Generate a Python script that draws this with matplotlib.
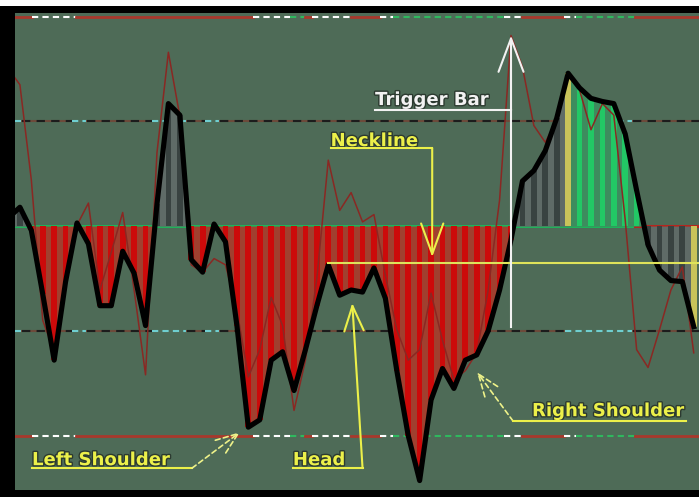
import matplotlib
matplotlib.use("Agg")
import matplotlib.pyplot as plt
import matplotlib.patheffects as pe
from matplotlib.patches import Rectangle
import numpy as np


# CCI readings per bar (bar 0 sits just left of the view)
bars = np.arange(61)
cci_slow = np.array([8, 18, -4, -65, -128, -53, 3, -17, -76, -76,
                     -24, -45, -95, 21, 117, 106, -32, -44, 2, -15,
                     -95, -192, -185, -128, -120, -157, -118, -76, -37, -66,
                     -61, -63, -40, -69, -138, -200, -243, -166, -136, -155,
                     -128, -123, -100, -61, -13, 43, 53, 72, 103, 146,
                     132, 122, 119, 117, 88, 34, -18, -42, -52, -53, -96])
cci_fast = np.array([150, 135, 44, -90, -120, -47, 1, 22, -61, -25,
                     13, -61, -142, 70, 166, 105, -37, -44, -31, -37,
                     -80, -144, -118, -68, -95, -176, -128, -50, 63, 15,
                     32, 4, 11, -47, -99, -128, -118, -64, -109, -147,
                     -138, -121, -61, 25, 182, 152, 96, 80, 101, 144,
                     130, 92, 117, 106, 6, -118, -135, -99, -61, -39, -121])
signal_bars = [49, 60]
trigger_bar = 44
outer_levels = [200, -200]
inner_levels = [100, -100]

BG = "#4e6b57"
RED = "#cc0a0a"
BROWN = "#a0402f"
DARK_GREY = "#394341"
LIGHT_GREY = "#5f6b67"
GREEN_BAR = "#22c865"
GREEN_FILL = "#3d8c5e"
YELLOW_BAR = "#c9c35a"
ANNO = "#ecf04a"

fig = plt.figure(figsize=(6.99, 4.97), dpi=100, facecolor="white")
fig.patches.append(Rectangle((0, 0), 1, 491 / 497, transform=fig.transFigure,
                             facecolor="black", edgecolor="none", zorder=-5))
ax = fig.add_axes([15 / 699, 7 / 497, 684 / 699, 477 / 497])
ax.set_facecolor(BG)
ax.set_xlim(0.57, 60.46)
ax.set_ylim(-252, 203.5)
ax.axis("off")
ax.patch.set_visible(True)
ax.set_axis_on()
for s in ax.spines.values():
    s.set_visible(False)
ax.set_xticks([])
ax.set_yticks([])

x_lo, x_hi = ax.get_xlim()

# --- level lines -----------------------------------------------------------
outer_marks = [(2.06, 5.91, "white"), (21.4, 24.65, "white"), (24.65, 25.96, "#2fb85e"),
               (26.6, 30.0, "white"), (32.5, 33.7, "white"), (33.7, 43.4, "#2fb85e"),
               (43.4, 45.0, "white"), (48.6, 49.7, "white"), (49.7, 54.9, "#2fb85e")]
inner_marks = [(0.57, 1.2), (5.55, 6.9), (12.6, 15.6), (17.2, 18.5), (48.7, 54.7)]

for lvl in outer_levels:
    start = x_lo
    for a, b, c in outer_marks:
        ax.plot([start, a], [lvl, lvl], color="#a8382c", lw=2.0, zorder=1)
        ax.plot([a, b], [lvl, lvl], color=c, lw=1.5, ls=(0, (3, 2)), zorder=1)
        start = b
    ax.plot([start, x_hi], [lvl, lvl], color="#a8382c", lw=2.0, zorder=1)

for lvl in inner_levels:
    start = x_lo
    for a, b in inner_marks:
        if a > start:
            ax.plot([start, a], [lvl, lvl], color="#6c4a3a", lw=1.5, zorder=1)
            ax.plot([start, a], [lvl, lvl], color="#1c1c1c", lw=1.5, ls=(0, (4, 3)), zorder=1)
        ax.plot([a, b], [lvl, lvl], color="#6fcfd0", lw=1.5, ls=(0, (3, 2)), zorder=1)
        start = b
    ax.plot([start, x_hi], [lvl, lvl], color="#6c4a3a", lw=1.5, zorder=1)
    ax.plot([start, x_hi], [lvl, lvl], color="#1c1c1c", lw=1.5, ls=(0, (4, 3)), zorder=1)

ax.plot([x_lo, 54.9], [0, 0], color="#1fb25a", lw=2.2, zorder=1)
ax.plot([54.9, x_hi], [0, 0], color="#b4261e", lw=2.2, zorder=1)


# --- histogram fill + bars -------------------------------------------------
def fill_colours(k):
    neg = BROWN if k < 55 else LIGHT_GREY
    pos = GREEN_FILL if 49 <= k < 56 else LIGHT_GREY
    return pos, neg


def bar_colour(k, v):
    if k in signal_bars:
        return YELLOW_BAR
    if v < 0:
        return RED if k < 55 else DARK_GREY
    return DARK_GREY if k < 49 else GREEN_BAR


for k in range(len(bars) - 1):
    xs = bars[k:k + 2]
    ys = cci_slow[k:k + 2]
    pos, neg = fill_colours(k)
    ax.fill_between(xs, ys, 0, where=ys >= 0, interpolate=True, color=pos, lw=0, zorder=2)
    ax.fill_between(xs, ys, 0, where=ys <= 0, interpolate=True, color=neg, lw=0, zorder=2)

ax.bar(bars, cci_slow, width=0.5, color=[bar_colour(k, v) for k, v in zip(bars, cci_slow)],
       linewidth=0, zorder=3)

ax.plot(bars, cci_fast, color="#8a2823", lw=1.1, zorder=4)
ax.plot(bars, cci_slow, color="black", lw=3.7, zorder=5, solid_joinstyle="round")

# --- annotations -----------------------------------------------------------
halo = [pe.withStroke(linewidth=2, foreground="#2c3a30")]


def label(x, y, text, colour, x_end, under):
    ax.text(x, y, text, color=colour, fontsize=13, fontweight="bold", family="DejaVu Sans",
            ha="left", va="baseline", zorder=9, path_effects=halo)
    ax.plot([x, x_end], [under, under], color=colour, lw=1.5, zorder=9)


def arrow(x0, y0, x1, y1, colour, ls="-", hl=0.9, hw=0.35, lw=1.5):
    ax.annotate("", xy=(x1, y1), xytext=(x0, y0), zorder=9,
                arrowprops=dict(arrowstyle=f"->,head_length={hl},head_width={hw}",
                                color=colour, lw=lw, ls=ls, shrinkA=0, shrinkB=0,
                                mutation_scale=20))


# Trigger bar
label(32.1, 115.6, "Trigger Bar", "#f2f2f2", trigger_bar, 110.8)
ax.plot([trigger_bar, trigger_bar], [-96.5, 110.8], color="#f2f2f2", lw=1.5, zorder=9)
arrow(trigger_bar, 110.8, trigger_bar, 182, "#f2f2f2", hl=1.2, hw=0.45)

# Neckline
ax.plot([28.0, x_hi], [-35.3, -35.3], color="#dfe35a", lw=1.5, zorder=8)
label(28.2, 76.4, "Neckline", ANNO, 37.1, 74.5)
arrow(37.1, 74.5, 37.1, -29.6, ANNO, hl=1.1, hw=0.4)

# Head
label(24.9, -228.3, "Head", ANNO, 31.0, -231.1)
arrow(31.0, -231.1, 30.1, -73.5, ANNO, hl=0.9, hw=0.35)

# Shoulders
label(2.06, -228.3, "Left Shoulder", ANNO, 16.07, -231.1)
arrow(16.07, -231.1, 20.27, -196.8, "#eef28a", ls=(0, (3, 2)), hl=0.8, hw=0.3, lw=1.2)
label(45.84, -181.5, "Right Shoulder", ANNO, 59.33, -186.2)
arrow(44.18, -186.2, 41.02, -139.4, "#eef28a", ls=(0, (3, 2)), hl=0.8, hw=0.3, lw=1.2)
ax.plot([44.18, 45.84], [-186.2, -186.2], color=ANNO, lw=1.5, zorder=9)

fig.savefig("out.png", dpi=100, facecolor=fig.get_facecolor())
